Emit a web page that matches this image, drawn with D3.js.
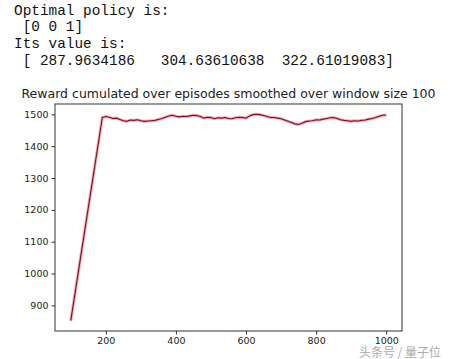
<!DOCTYPE html>
<html>
<head>
<meta charset="utf-8">
<script src="https://cdn.jsdelivr.net/npm/d3@7"></script>
<style>
  body { margin: 0; background: #fff; }
</style>
</head>
<body>
<script>
// Paramètres
const width = 450;
const height = 359;
const margin = { top: 104, right: 48, bottom: 28, left: 55 };

// Texte affiché au-dessus du graphique
const outputLines = [
  'Optimal policy is:',
  ' [0 0 1]',
  'Its value is:',
  ' [ 287.9634186   304.63610638  322.61019083]'
];

const title = 'Reward cumulated over episodes smoothed over window size 100';

// Épisodes et récompense lissée
const episodes = [100, 190, 200, 210, 220, 230, 240, 250, 260, 270, 280, 290, 300,
  310, 320, 330, 340, 350, 360, 370, 380, 390, 400, 410, 420, 430, 440, 450, 460,
  470, 480, 490, 500, 510, 520, 530, 540, 550, 560, 570, 580, 590, 600, 610, 620,
  630, 640, 650, 660, 670, 680, 690, 700, 710, 720, 730, 740, 750, 760, 770, 780,
  790, 800, 810, 820, 830, 840, 850, 860, 870, 880, 890, 900, 910, 920, 930, 940,
  950, 960, 970, 980, 990, 1000];
const rewards = [852, 1490, 1493, 1491, 1487, 1488, 1484, 1480, 1478, 1482, 1481, 1483, 1480,
  1478, 1479, 1480, 1481, 1484, 1487, 1491, 1495, 1497, 1494, 1492, 1494, 1493, 1495, 1497, 1496,
  1493, 1488, 1491, 1490, 1486, 1489, 1488, 1490, 1487, 1486, 1489, 1491, 1490, 1488, 1495, 1499,
  1500, 1499, 1496, 1493, 1490, 1490, 1488, 1486, 1482, 1478, 1474, 1470, 1468, 1472, 1477, 1479,
  1480, 1483, 1482, 1485, 1487, 1489, 1490, 1487, 1483, 1481, 1480, 1478, 1480, 1479, 1481, 1482,
  1485, 1487, 1490, 1494, 1497, 1498];

const xTicks = [200, 400, 600, 800, 1000];
const yTicks = [900, 1000, 1100, 1200, 1300, 1400, 1500];

const data = episodes.map((e, i) => ({ episode: e, reward: rewards[i] }));

const svg = d3.select('body')
  .append('svg')
  .attr('width', width)
  .attr('height', height);

// Sortie console
svg.append('g')
  .selectAll('text')
  .data(outputLines)
  .enter()
  .append('text')
  .attr('x', 14)
  .attr('y', (d, i) => 14.5 + i * 16.8)
  .attr('xml:space', 'preserve')
  .style('white-space', 'pre')
  .style('font', '14.4px "Liberation Mono", monospace')
  .style('fill', '#111')
  .text(d => d);

// Échelles (marge de 5 % comme matplotlib)
const xExt = d3.extent(episodes);
const xPad = (xExt[1] - xExt[0]) * 0.05;
const x = d3.scaleLinear()
  .domain([xExt[0] - xPad, xExt[1] + xPad])
  .range([margin.left, width - margin.right]);

const yExt = d3.extent(rewards);
const yPad = (yExt[1] - yExt[0]) * 0.05;
const y = d3.scaleLinear()
  .domain([yExt[0] - yPad, yExt[1] + yPad])
  .range([height - margin.bottom, margin.top]);

// Titre
svg.append('text')
  .attr('x', (margin.left + width - margin.right) / 2)
  .attr('y', 98)
  .attr('text-anchor', 'middle')
  .style('font', '12.5px "DejaVu Sans", sans-serif')
  .style('fill', '#222')
  .text(title);

// Courbe : halo rouge puis trait foncé
const line = d3.line()
  .x(d => x(d.episode))
  .y(d => y(d.reward));

svg.append('path')
  .datum(data)
  .attr('d', line)
  .attr('fill', 'none')
  .attr('stroke', '#f04050')
  .attr('stroke-opacity', 0.45)
  .attr('stroke-width', 3);

svg.append('path')
  .datum(data)
  .attr('d', line)
  .attr('fill', 'none')
  .attr('stroke', '#7a1025')
  .attr('stroke-width', 1.1);

// Axes
const styleAxis = g => {
  g.selectAll('text').style('font', '9.5px "DejaVu Sans", sans-serif').style('fill', '#222');
  g.selectAll('line').attr('stroke', '#333');
  g.select('.domain').remove();
};

svg.append('g')
  .attr('transform', `translate(0, ${height - margin.bottom})`)
  .call(d3.axisBottom(x).tickValues(xTicks).tickFormat(d3.format('d')).tickSize(3.5).tickPadding(3))
  .call(styleAxis);

svg.append('g')
  .attr('transform', `translate(${margin.left}, 0)`)
  .call(d3.axisLeft(y).tickValues(yTicks).tickFormat(d3.format('d')).tickSize(3.5).tickPadding(3))
  .call(styleAxis);

// Cadre
svg.append('rect')
  .attr('x', margin.left)
  .attr('y', margin.top)
  .attr('width', width - margin.left - margin.right)
  .attr('height', height - margin.top - margin.bottom)
  .attr('fill', 'none')
  .attr('stroke', '#333')
  .attr('stroke-width', 1);

// Filigrane
svg.append('text')
  .attr('x', 441)
  .attr('y', 357)
  .attr('text-anchor', 'end')
  .style('font', '12px "Noto Sans CJK SC", sans-serif')
  .style('fill', '#aaa')
  .text('头条号 / 量子位');
</script>
</body>
</html>
